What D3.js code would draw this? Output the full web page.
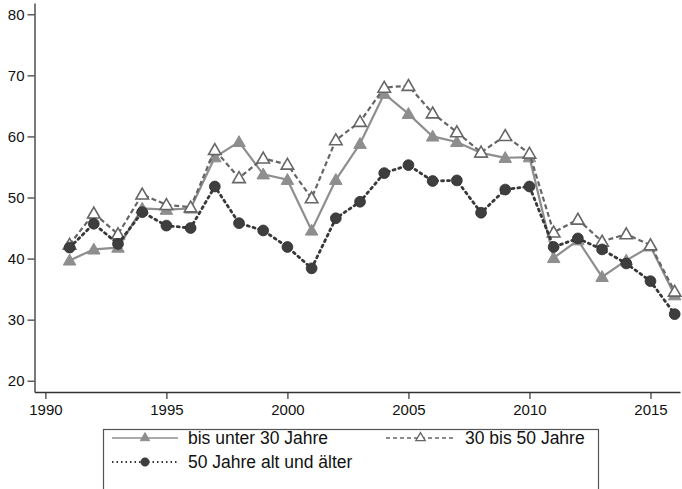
<!DOCTYPE html>
<html><head><meta charset="utf-8">
<script src="https://cdn.jsdelivr.net/npm/d3@7"></script>
<style>body{margin:0;background:#fff;} text{font-family:"Liberation Sans",Arial,sans-serif;}</style>
</head><body>
<svg id="c" width="682" height="489"></svg>
<script>
const years = [1991,1992,1993,1994,1995,1996,1997,1998,1999,2000,2001,2002,2003,2004,2005,2006,2007,2008,2009,2010,2011,2012,2013,2014,2015,2016];
const under30 = [39.7,41.5,41.8,48.2,48.0,48.2,56.6,59.1,53.8,52.9,44.6,52.9,58.8,67.0,63.7,60.0,59.1,57.3,56.5,56.6,40.1,43.0,37.0,39.7,42.0,34.0];
const age30to50 = [42.3,47.4,44.0,50.5,48.8,48.4,57.8,53.2,56.4,55.4,49.9,59.4,62.4,68.0,68.3,63.8,60.7,57.4,60.1,57.2,44.3,46.4,42.8,44.0,42.2,34.6];
const age50plus = [41.8,45.7,42.4,47.6,45.4,45.0,51.8,45.8,44.6,41.9,38.4,46.6,49.3,54.0,55.3,52.7,52.8,47.5,51.3,51.8,41.9,43.3,41.5,39.2,36.3,30.9];
const xTicks = [1990,1995,2000,2005,2010,2015];
const yTicks = [20,30,40,50,60,70,80];
const seriesNames = ["bis unter 30 Jahre","30 bis 50 Jahre","50 Jahre alt und älter"];

const svg = d3.select("#c");
const x = d3.scaleLinear().domain([1989.55, 2016.22]).range([34.5, 680]);
const y = d3.scaleLinear().domain([18.15, 81.85]).range([392, 3]);

const ax = d3.axisBottom(x).tickValues(xTicks).tickFormat(d3.format("d")).tickSize(7).tickSizeOuter(0);
const gx = svg.append("g").attr("transform","translate(0,392)").call(ax);
gx.select(".domain").attr("stroke","#333").attr("stroke-width",1.3);
gx.selectAll(".tick line").attr("stroke","#333").attr("stroke-width",1.2);
gx.selectAll(".tick text").attr("font-size",15).attr("fill","#111").attr("y",9).attr("dy","0.95em");

const ay = d3.axisLeft(y).tickValues(yTicks).tickSize(7).tickSizeOuter(0);
const gy = svg.append("g").attr("transform","translate(34.5,0)").call(ay);
gy.select(".domain").attr("stroke","#333").attr("stroke-width",1.3);
gy.selectAll(".tick line").attr("stroke","#333").attr("stroke-width",1.2);
gy.selectAll(".tick text").attr("font-size",15).attr("fill","#111").attr("x",-10);

const series = [
  {name:seriesNames[0], vals:under30, color:"#8e8e8e", dash:null, width:2.2, marker:"tri", fill:"#8e8e8e", stroke:"#8e8e8e"},
  {name:seriesNames[1], vals:age30to50, color:"#666", dash:"5,3", width:2.2, marker:"tri", fill:"#fff", stroke:"#666"},
  {name:seriesNames[2], vals:age50plus, color:"#383838", dash:"2,4", width:2.8, marker:"circ", fill:"#3e3e3e", stroke:"#2e2e2e"}
];
const line = d3.line().x((d,i)=>x(years[i])).y(d=>y(d));
const triSym = d3.symbol().type(d3.symbolTriangle).size(68);
const circSym = d3.symbol().type(d3.symbolCircle).size(92);

function drawMarker(g, s, cx, cy){
  if(s.marker==="tri"){
    g.append("path").attr("d", triSym()).attr("transform",`translate(${cx},${cy+1})`)
      .attr("fill",s.fill).attr("stroke",s.stroke).attr("stroke-width", s.fill==="#fff"?1.6:1);
  } else {
    g.append("path").attr("d", circSym()).attr("transform",`translate(${cx},${cy})`)
      .attr("fill",s.fill).attr("stroke",s.stroke).attr("stroke-width",0.8);
  }
}

series.forEach(s=>{
  const g = svg.append("g");
  g.append("path").datum(s.vals).attr("d",line).attr("fill","none")
    .attr("stroke",s.color).attr("stroke-width",s.width)
    .attr("stroke-dasharray",s.dash).attr("stroke-linecap", s.marker==="circ"?"round":"butt");
  s.vals.forEach((v,i)=>drawMarker(g,s,x(years[i]),y(v)));
});

// legend
const lg = svg.append("g");
lg.append("rect").attr("x",103.5).attr("y",429.5).attr("width",495).attr("height",70)
  .attr("fill","#fff").attr("stroke","#555").attr("stroke-width",1.2);
const legendPos = [{x1:112,x2:178,ty:438,tx:188},{x1:386,x2:455,ty:438,tx:465},{x1:112,x2:178,ty:462,tx:188}];
series.forEach((s,i)=>{
  const p = legendPos[i];
  lg.append("line").attr("x1",p.x1).attr("x2",p.x2).attr("y1",p.ty).attr("y2",p.ty)
    .attr("stroke",s.color).attr("stroke-width",s.marker==="circ"?2:1.6)
    .attr("stroke-dasharray", s.marker==="circ"?"1.5,3": s.dash ? "4,3" : null);
  const cx=(p.x1+p.x2)/2;
  if(s.marker==="tri"){
    lg.append("path").attr("d", d3.symbol().type(d3.symbolTriangle).size(38)()).attr("transform",`translate(${cx},${p.ty})`)
      .attr("fill",s.fill).attr("stroke",s.stroke).attr("stroke-width",s.fill==="#fff"?1.3:1);
  } else {
    lg.append("path").attr("d", d3.symbol().type(d3.symbolCircle).size(55)()).attr("transform",`translate(${cx},${p.ty})`)
      .attr("fill",s.fill).attr("stroke",s.stroke).attr("stroke-width",0.6);
  }
  lg.append("text").attr("x",p.tx).attr("y",p.ty).attr("dy","0.35em").attr("font-size",17.5).attr("fill","#111").text(s.name);
});
</script>
</body></html>
